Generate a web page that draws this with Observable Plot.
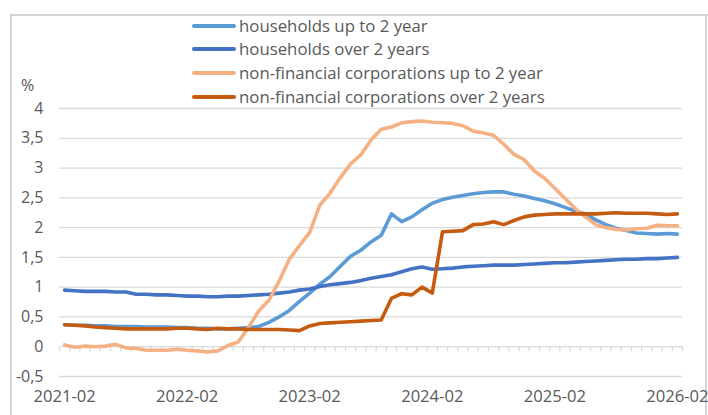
<!DOCTYPE html>
<html>
<head>
<meta charset="utf-8">
<script src="https://cdn.jsdelivr.net/npm/d3@7"></script>
<script src="https://cdn.jsdelivr.net/npm/@observablehq/plot@0.6"></script>
<style>
  html, body { margin: 0; padding: 0; background: #fff; }
  #wrap { position: relative; width: 708px; height: 415px; overflow: hidden; font-family: "Open Sans", "Liberation Sans", Arial, sans-serif; color: #595959; background: #fff; }
  #chart { position: absolute; left: 0; top: 0; }
  .edge { position: absolute; background: #d6d6d6; }
  .leg { position: absolute; left: 192px; height: 22px; font-size: 16.8px; white-space: nowrap; }
  .leg .sw { position: absolute; left: 0; top: 9px; width: 44px; height: 4px; border-radius: 2px; }
  .leg .tx { position: absolute; left: 47px; top: 0; line-height: 22px; }
  #pct { position: absolute; left: 21px; top: 74px; font-size: 16px; line-height: 22px; }
</style>
</head>
<body>
<div id="wrap">
  <div class="edge" style="left:10px; top:14px; width:698px; height:2px;"></div>
  <div class="edge" style="left:10px; top:14px; width:2px; height:401px;"></div>
  <div class="edge" style="left:705px; top:14px; width:2px; height:401px;"></div>
  <div id="chart"></div>
  <div id="legend"></div>
  <div id="pct">%</div>
</div>
<script>
// Monthly categories 2021-02 .. 2026-02
const start = new Date(Date.UTC(2021, 1, 1));
const months = d3.range(61).map(i => d3.utcFormat("%Y-%m")(d3.utcMonth.offset(start, i)));
const xTickLabels = ["2021-02", "2022-02", "2023-02", "2024-02", "2025-02", "2026-02"];
const yTicks = [-0.5, 0, 0.5, 1, 1.5, 2, 2.5, 3, 3.5, 4];

const seriesNames = [
  "households up to 2 year",
  "households over 2 years",
  "non-financial corporations up to 2 year",
  "non-financial corporations over 2 years"
];
const seriesColors = ["#5B9BD5", "#4472C4", "#F4B183", "#C55A11"];

const hhShort = [
  0.37, 0.36, 0.36, 0.35, 0.35, 0.34, 0.34, 0.34, 0.33, 0.33,
  0.33, 0.32, 0.32, 0.31, 0.31, 0.30, 0.30, 0.31, 0.32, 0.34,
  0.41, 0.50, 0.61, 0.76, 0.90, 1.05, 1.18, 1.35, 1.52, 1.62,
  1.76, 1.87, 2.23, 2.10, 2.18, 2.30, 2.41, 2.47, 2.51, 2.54,
  2.57, 2.59, 2.60, 2.60, 2.56, 2.53, 2.49, 2.45, 2.40, 2.34,
  2.28, 2.23, 2.13, 2.05, 1.99, 1.95, 1.91, 1.90, 1.89, 1.90,
  1.89
];
const hhLong = [
  0.95, 0.94, 0.93, 0.93, 0.93, 0.92, 0.92, 0.88, 0.88, 0.87,
  0.87, 0.86, 0.85, 0.85, 0.84, 0.84, 0.85, 0.85, 0.86, 0.87,
  0.88, 0.90, 0.92, 0.95, 0.97, 1.01, 1.04, 1.06, 1.08, 1.11,
  1.15, 1.18, 1.21, 1.26, 1.31, 1.34, 1.30, 1.31, 1.32, 1.34,
  1.35, 1.36, 1.37, 1.37, 1.37, 1.38, 1.39, 1.40, 1.41, 1.41,
  1.42, 1.43, 1.44, 1.45, 1.46, 1.47, 1.47, 1.48, 1.48, 1.49,
  1.50
];
const nfcShort = [
  0.03, -0.01, 0.01, 0.00, 0.01, 0.04, -0.02, -0.03, -0.06, -0.06,
  -0.06, -0.04, -0.06, -0.07, -0.09, -0.07, 0.02, 0.08, 0.32, 0.60,
  0.78, 1.10, 1.47, 1.70, 1.92, 2.38, 2.58, 2.84, 3.07, 3.22,
  3.47, 3.65, 3.69, 3.76, 3.78, 3.79, 3.77, 3.76, 3.75, 3.71,
  3.62, 3.59, 3.55, 3.40, 3.23, 3.14, 2.95, 2.83, 2.66, 2.49,
  2.32, 2.18, 2.05, 2.00, 1.97, 1.96, 1.98, 1.99, 2.04, 2.03,
  2.03
];
const nfcLong = [
  0.37, 0.36, 0.35, 0.33, 0.32, 0.31, 0.30, 0.30, 0.30, 0.30,
  0.30, 0.31, 0.31, 0.30, 0.29, 0.31, 0.30, 0.30, 0.29, 0.29,
  0.29, 0.29, 0.28, 0.27, 0.35, 0.39, 0.40, 0.41, 0.42, 0.43,
  0.44, 0.45, 0.81, 0.89, 0.87, 1.00, 0.90, 1.93, 1.94, 1.95,
  2.05, 2.06, 2.10, 2.05, 2.12, 2.18, 2.21, 2.22, 2.23, 2.23,
  2.23, 2.23, 2.23, 2.24, 2.25, 2.24, 2.24, 2.24, 2.23, 2.22,
  2.23
];

const allSeries = [hhShort, hhLong, nfcShort, nfcLong];
const data = allSeries.flatMap((vals, s) =>
  vals.map((v, i) => ({ month: months[i], value: v, series: seriesNames[s] }))
);

const W = 708, H = 415, mL = 59, mR = 26, mT = 108, mB = 39;
const step = (W - mL - mR) / months.length;
const fmt = d => String(d).replace(".", ",");

const chart = Plot.plot({
  width: W, height: H,
  marginLeft: mL, marginRight: mR, marginTop: mT, marginBottom: mB,
  style: { fontFamily: "Open Sans, Liberation Sans, Arial, sans-serif", fontSize: "16px", color: "#595959", background: "transparent", overflow: "visible" },
  x: { type: "point", domain: months, padding: 0.5, round: false },
  y: { domain: [-0.5, 4] },
  color: { domain: seriesNames, range: seriesColors },
  marks: [
    Plot.ruleY(yTicks, { stroke: "#d9d9d9", strokeWidth: 1.3 }),
    Plot.ruleX(months, { x: d => d, y1: 0, y2: 0, insetBottom: -5, dx: -step / 2, stroke: "#d9d9d9", strokeWidth: 1.3 }),
    Plot.ruleX([months[months.length - 1]], { x: d => d, y1: 0, y2: 0, insetBottom: -5, dx: step / 2, stroke: "#d9d9d9", strokeWidth: 1.3 }),
    Plot.axisY({ ticks: yTicks, tickSize: 0, tickPadding: 16, tickFormat: fmt, label: null }),
    Plot.axisX({ ticks: xTickLabels, tickSize: 0, tickPadding: 14, label: null, fontSize: 16.6 }),
    Plot.line(data, { x: "month", y: "value", z: "series", stroke: "series", strokeWidth: 3.6, strokeLinejoin: "round", strokeLinecap: "round" })
  ]
});
document.getElementById("chart").appendChild(chart);

// Legend
const legendTops = [15, 38, 62, 86];
const legend = document.getElementById("legend");
seriesNames.forEach((name, i) => {
  const row = document.createElement("div");
  row.className = "leg";
  row.style.top = legendTops[i] + "px";
  const sw = document.createElement("div");
  sw.className = "sw";
  sw.style.background = seriesColors[i];
  const tx = document.createElement("div");
  tx.className = "tx";
  tx.textContent = name;
  row.appendChild(sw);
  row.appendChild(tx);
  legend.appendChild(row);
});
</script>
</body>
</html>
